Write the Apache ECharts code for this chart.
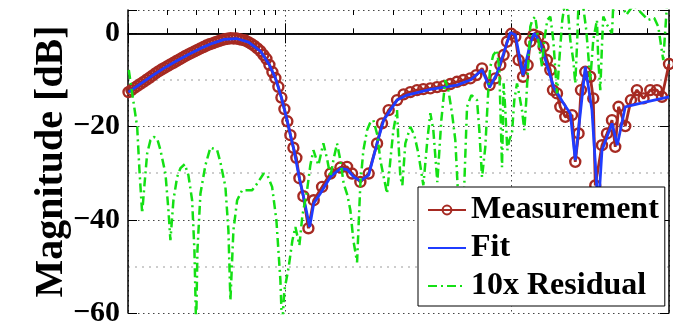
<!DOCTYPE html>
<html><head><meta charset="utf-8">
<script src="https://cdn.jsdelivr.net/npm/echarts@6/dist/echarts.min.js"></script>
<style>html,body{margin:0;padding:0;background:#fff}#c{width:673px;height:324px}</style>
</head><body><div id="c"></div>
<script>
// ---- data (frequency in Hz on a log axis, magnitude in dB) ----
const seriesNames = ['Measurement', 'Fit', '10x Residual'];
const measFreq = [2.01, 2.072, 2.136, 2.202, 2.271, 2.342, 2.414, 2.49, 2.566, 2.646, 2.729, 2.814, 2.901, 2.991, 3.083, 3.18, 3.278, 3.381, 3.485, 3.594, 3.705, 3.82, 3.94, 4.063, 4.189, 4.319, 4.451, 4.591, 4.733, 4.881, 5.033, 5.189, 5.349, 5.516, 5.688, 5.865, 6.048, 6.235, 6.428, 6.628, 6.834, 7.047, 7.266, 7.492, 7.724, 7.965, 8.213, 8.467, 8.732, 9.002, 9.282, 9.572, 9.869, 10.17, 10.49, 10.82, 11.15, 11.5, 11.98, 12.61, 13.31, 14.5, 15.78, 17.47, 18.71, 19.69, 21.43, 23.32, 25.41, 26.73, 28.6, 31.16, 33.33, 35.68, 38.2, 40.75, 43.76, 46.86, 50.13, 53.67, 57.45, 61.28, 65.81, 69.97, 74.16, 80.15, 84.94, 89.4, 92.45, 95.72, 100, 104.2, 107.7, 112.7, 118.1, 121.4, 125.5, 132.1, 139, 143.9, 148.9, 153, 159.4, 164.9, 173.5, 185.8, 192.1, 198.7, 203.6, 212.8, 223.9, 230.8, 235.6, 252.3, 265.5, 279.4, 288.9, 298.8, 320, 339.1, 360.5, 385.6, 413, 442.1, 465.3, 500];
const measDb = [-12.61, -12.17, -11.73, -11.29, -10.85, -10.42, -9.97, -9.54, -9.07, -8.59, -8.16, -7.78, -7.41, -7.05, -6.68, -6.32, -5.95, -5.59, -5.22, -4.86, -4.53, -4.19, -3.87, -3.57, -3.24, -2.94, -2.62, -2.36, -2.15, -1.91, -1.70, -1.48, -1.29, -1.18, -1.07, -1.10, -1.12, -1.27, -1.40, -1.55, -1.91, -2.28, -2.71, -3.24, -3.80, -4.64, -5.46, -6.77, -8.31, -9.60, -11.47, -13.79, -16.26, -18.88, -21.85, -24.55, -26.72, -31.08, -34.95, -41.83, -35.81, -32.95, -30.08, -28.79, -28.66, -30.08, -31.88, -30.08, -23.63, -19.33, -16.48, -14.33, -13.10, -12.61, -12.18, -11.97, -11.82, -11.54, -11.32, -10.89, -10.40, -10.03, -9.67, -8.96, -7.52, -11.11, -9.67, -6.81, -4.66, -1.80, -0.1, -0.73, -5.74, -9.32, -6.81, -1.80, -0.3, -0.73, -2.88, -5.74, -7.88, -12.18, -12.89, -15.77, -17.92, -17.55, -27.58, -21.48, -12.18, -8.25, -9.32, -13.96, -32.65, -24.0, -21.48, -18.63, -24.36, -15.77, -19.91, -14.33, -12.18, -13.96, -12.18, -12.18, -13.62, -6.60];
const fitFreq = [2.01, 2.271, 2.566, 2.901, 3.278, 3.705, 4.189, 4.733, 5.349, 6.048, 6.834, 7.724, 8.467, 9.002, 9.572, 10.17, 10.82, 11.5, 11.98, 12.77, 13.31, 14.24, 15.78, 17.47, 18.71, 20.01, 21.43, 23.32, 25.41, 27.18, 31.16, 34.51, 43.76, 57.45, 65.81, 74.16, 80.15, 86.43, 92.45, 98.99, 104.2, 112.7, 121.4, 126.4, 134.6, 143.9, 153.9, 170.5, 182.6, 192.1, 212.8, 227.8, 242.9, 252.3, 279.4, 294.9, 320, 392.4, 500];
const fitDb = [-12.61, -10.85, -9.07, -7.41, -5.95, -4.53, -3.24, -2.15, -1.29, -1.12, -1.91, -3.80, -6.77, -9.60, -13.79, -18.88, -24.55, -31.08, -34.95, -41.55, -36.52, -34.37, -30.81, -29.0, -29.22, -30.81, -31.66, -30.44, -23.63, -18.63, -14.33, -13.25, -12.03, -11.11, -10.03, -7.88, -11.60, -8.59, -4.30, 0.2, -0.37, -8.96, -2.15, 0, -2.15, -6.81, -11.47, -15.04, -17.19, -27.22, -7.17, -16.48, -37.96, -25.07, -19.33, -24.0, -15.77, -14.76, -13.62];
const resFreq = [2.016, 2.093, 2.196, 2.248, 2.311, 2.365, 2.432, 2.515, 2.601, 2.693, 2.785, 2.931, 3.022, 3.083, 3.18, 3.303, 3.416, 3.568, 3.705, 3.848, 3.94, 4.009, 4.063, 4.189, 4.407, 4.638, 4.967, 5.136, 5.405, 5.573, 5.688, 5.865, 6.093, 6.409, 6.697, 7.1, 7.492, 7.989, 8.296, 8.705, 9.095, 9.474, 9.638, 9.867, 10.31, 10.71, 11.04, 11.5, 11.86, 12.44, 12.86, 13.27, 13.96, 14.69, 15.3, 15.78, 16.27, 16.89, 17.47, 18.07, 18.77, 19.35, 19.95, 20.72, 21.0, 21.43, 22.1, 22.95, 23.73, 24.47, 25.49, 26.28, 27.09, 28.14, 29.1, 30.01, 31.16, 31.57, 32.23, 32.89, 33.91, 35.68, 37.17, 38.72, 40.75, 42.45, 43.76, 45.12, 47.0, 48.96, 51.0, 52.59, 54.61, 56.47, 58.23, 60.66, 63.64, 66.5, 70.47, 72.15, 74.16, 76.7, 79.08, 80.72, 83.23, 86.43, 88.48, 90.95, 92.45, 94.07, 96.01, 97.97, 100.7, 103.1, 106.0, 108.5, 111.5, 114.2, 116.5, 121.4, 123.9, 127.7, 131.7, 136.8, 140.0, 144.4, 148.9, 153.5, 159.4, 163.2, 168.3, 173.5, 178.9, 182.6, 188.2, 192.1, 196.0, 198.7, 206.4, 214.9, 223.9, 230.8, 239.7, 242.9, 248.0, 251.8, 255.6, 266.2, 279.4, 283.1, 304.1, 323.3, 347.1, 372.9, 404.6, 430.1, 448.0, 471.5, 489.7, 500];
const resDb = [-7.88, -13.25, -20.06, -29.37, -38.60, -32.59, -25.78, -22.92, -22.21, -22.56, -25.07, -30.08, -37.96, -44.40, -35.81, -30.81, -28.94, -28.08, -30.44, -35.81, -46.55, -63, -46.55, -34.37, -28.29, -24.49, -25.07, -27.65, -32.95, -42.26, -57.29, -42.26, -35.81, -33.66, -33.66, -33.66, -32.16, -30.08, -30.44, -32.95, -40.11, -53.0, -63, -55.15, -50.14, -44.40, -41.55, -45.48, -39.03, -33.66, -28.29, -25.07, -28.29, -23.57, -27.22, -30.81, -27.22, -23.63, -27.22, -32.22, -34.74, -37.96, -44.40, -49.13, -42.26, -32.22, -25.07, -20.77, -19.05, -18.63, -21.85, -27.22, -30.44, -34.37, -27.22, -20.77, -16.48, -22.92, -30.81, -32.59, -23.63, -20.06, -21.85, -25.71, -32.59, -22.92, -17.12, -20.77, -31.94, -18.63, -10.03, -12.18, -17.12, -22.92, -35.81, -44.40, -15.77, -13.25, -14.33, -20.77, -30.87, -24.36, -12.18, -7.18, -4.66, -3.59, -7.88, -28.72, -10.74, -16.48, -25.07, -22.92, -21.42, -14.33, -10.74, -13.25, -16.48, -20.77, -14.33, 1.42, 2.86, 3.59, -1.44, -7.18, -1.44, 2.86, 3.59, -1.44, -12.89, -5.74, 2.86, 7.15, 3.93, -1.44, -5.74, -10.74, -1.44, 7.15, 7.15, 0.71, -10.03, -1.44, 2.86, -5.74, -12.18, -3.59, 3.59, 1.78, 0, 6, 7, 3.93, 6, 4.6, 2.86, 3.3, 1.42, -5.74, 6, 7];
const yTickLabels = [0, -20, -40, -60];
const yMinorGrid = [-10, -30, -50];
const xMinorTicks = [3, 4, 5, 6, 7, 8, 9, 20, 30, 40, 50, 60, 70, 80, 90, 200, 300, 400];
const xRange = [2, 500];
const yRange = [-60, 5];

// ---- chart ----
const zip = (a, b) => a.map((v, i) => [v, b[i]]);
const FONT = 'Liberation Serif';
const RED = '#a62a22', BLUE = '#1f3cff', GREEN = '#14e014';
const lx = xRange.map(Math.log10);
const minorLog = xMinorTicks.map(Math.log10);

const chart = echarts.init(document.getElementById('c'), null, {renderer: 'canvas'});
chart.setOption({
  animation: false,
  backgroundColor: '#fff',
  grid: {left: 128, top: 10, right: 4, bottom: 11, containLabel: false, outerBoundsMode: 'none'},
  legend: {
    data: [
      {name: seriesNames[0]},
      {name: seriesNames[1], itemStyle: {opacity: 0}},
      {name: seriesNames[2], itemStyle: {opacity: 0}}
    ],
    orient: 'vertical', left: 418, top: 187,
    backgroundColor: '#fff', borderColor: '#000', borderWidth: 1,
    padding: [7, 6, 4, 9], itemWidth: 38, itemHeight: 11, itemGap: 6,
    textStyle: {fontFamily: FONT, fontWeight: 'bold', fontSize: 32, color: '#000', lineHeight: 32},
    z: 20
  },
  xAxis: [
    {type: 'log', logBase: 10, min: xRange[0], max: xRange[1], position: 'bottom',
     axisLine: {show: true, lineStyle: {color: '#000', width: 1.5}},
     axisTick: {show: true, inside: true, length: 10, lineStyle: {color: '#000', width: 1}},
     axisLabel: {show: false},
     splitLine: {show: true, lineStyle: {color: '#444', width: 1, type: [1.5, 3.5]}}},
    {type: 'value', min: lx[0], max: lx[1], position: 'bottom',
     axisLine: {show: false}, axisLabel: {show: false}, splitLine: {show: false},
     axisTick: {show: true, inside: true, length: 5, customValues: minorLog, lineStyle: {color: '#000', width: 1}}},
    {type: 'log', logBase: 10, min: xRange[0], max: xRange[1], position: 'top',
     axisLine: {show: true, lineStyle: {color: '#000', width: 1.5}},
     axisTick: {show: true, inside: true, length: 10, lineStyle: {color: '#000', width: 1}},
     axisLabel: {show: false}, splitLine: {show: false}},
    {type: 'value', min: lx[0], max: lx[1], position: 'top',
     axisLine: {show: false}, axisLabel: {show: false}, splitLine: {show: false},
     axisTick: {show: true, inside: true, length: 5, customValues: minorLog, lineStyle: {color: '#000', width: 1}}}
  ],
  yAxis: [
    {type: 'value', min: yRange[0], max: yRange[1], interval: 20, position: 'left',
     name: 'Magnitude [dB]', nameLocation: 'middle', nameRotate: 90, nameGap: 56, nameMoveOverlap: false,
     nameTextStyle: {fontFamily: FONT, fontWeight: 'bold', fontSize: 40, color: '#000'},
     axisLine: {show: true, lineStyle: {color: '#000', width: 1.5}},
     axisTick: {show: true, inside: true, length: 9, lineStyle: {color: '#000', width: 1}},
     axisLabel: {show: true, margin: 8, fontFamily: FONT, fontWeight: 'bold', fontSize: 30, color: '#000',
       formatter: v => yTickLabels.indexOf(v) >= 0 ? (v < 0 ? '\u2212' + (-v) : String(v)) : ''},
     splitLine: {show: true, lineStyle: {color: '#444', width: 1, type: [1.5, 3.5]}}},
    {type: 'value', min: yRange[0], max: yRange[1], interval: 20, position: 'right',
     axisLine: {show: true, lineStyle: {color: '#000', width: 1.5}},
     axisTick: {show: true, inside: true, length: 9, lineStyle: {color: '#000', width: 1}},
     axisLabel: {show: false}, splitLine: {show: false}},
    {type: 'value', min: yRange[0], max: yRange[1], position: 'left',
     axisLine: {show: false}, axisLabel: {show: false},
     axisTick: {show: false, customValues: yMinorGrid},
     splitLine: {show: true, lineStyle: {color: '#bdbdbd', width: 1.5, type: [2, 5]}}}
  ],
  series: [
    {name: seriesNames[0], type: 'line', data: zip(measFreq, measDb), xAxisIndex: 0, yAxisIndex: 0,
     symbol: 'circle', symbolSize: 10, showAllSymbol: true,
     itemStyle: {color: 'rgba(255,255,255,0)', borderColor: RED, borderWidth: 2.4},
     lineStyle: {color: RED, width: 2.8}, z: 2},
    {name: seriesNames[1], type: 'line', data: zip(fitFreq, fitDb), xAxisIndex: 0, yAxisIndex: 0,
     symbol: 'none', itemStyle: {color: BLUE}, lineStyle: {color: BLUE, width: 2.8}, z: 3},
    {name: seriesNames[2], type: 'line', data: zip(resFreq, resDb), xAxisIndex: 0, yAxisIndex: 0,
     symbol: 'none', itemStyle: {color: GREEN}, lineStyle: {color: GREEN, width: 2.5, type: [9, 4, 2, 4]}, z: 4}
  ]
});
</script></body></html>
